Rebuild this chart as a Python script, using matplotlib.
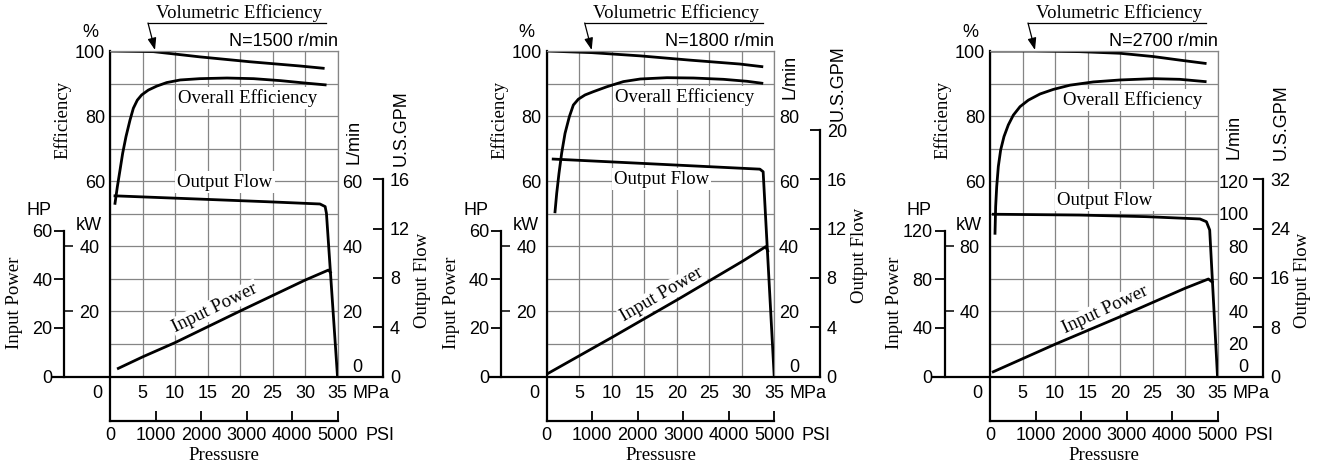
import matplotlib.pyplot as plt

plt.rcParams['font.family'] = 'Liberation Sans'
plt.rcParams['font.size'] = 13
SERIF = 'Liberation Serif'
SERIF_SIZE = 13.5

# shaft speed of each panel (r/min)
speeds = [1500, 1800, 2700]

# volumetric efficiency (%) vs pressure (MPa)
vol_mpa = [[0, 6.7, 13.8, 21.5, 29.2, 32.8],
           [0, 6.9, 14.4, 22.0, 29.7, 33.1],
           [0, 6.7, 13.8, 20.0, 25.1, 29.2, 33.1]]
vol_eff = [[100, 99.8, 98.2, 96.7, 95.4, 94.7],
           [100, 99.5, 98.5, 97.2, 96.0, 95.2],
           [100, 100, 99.8, 99.3, 98.3, 97.2, 96.2]]

# overall efficiency (%) vs pressure (MPa)
ovr_mpa = [[0.77, 1.13, 1.54, 1.95, 2.46, 3.08, 3.59, 4.2, 4.87, 5.9, 7.18, 8.72,
            10.8, 13.8, 18.0, 22.1, 26.2, 30.3, 33.1],
           [1.28, 1.54, 1.89, 2.3, 2.82, 3.48, 4.1, 4.87, 5.9, 7.17, 9.23, 11.8,
            14.4, 18.5, 22.6, 27.2, 30.8, 33.1],
           [0.77, 0.87, 1.03, 1.28, 1.64, 2.15, 2.82, 3.59, 4.62, 5.9, 7.7, 9.74,
            12.3, 15.9, 20.0, 25.1, 29.2, 33.1]]
ovr_eff = [[53.2, 58.3, 63.4, 68.6, 73.7, 78.8, 82.4, 84.9, 86.5, 88.0, 89.2, 90.3,
            91.1, 91.5, 91.7, 91.5, 90.9, 90.1, 89.6],
           [50.6, 56.3, 62.4, 68.6, 74.7, 79.8, 83.4, 85.2, 86.5, 87.5, 89.0, 90.6,
            91.4, 91.8, 91.7, 91.3, 90.7, 90.1],
           [44.0, 52.2, 58.3, 64.5, 69.6, 73.7, 77.3, 80.3, 82.9, 84.9, 86.8, 88.2,
            89.5, 90.5, 91.1, 91.5, 91.3, 90.6]]

# output flow (L/min) vs pressure (MPa)
flow_mpa = [[0.77, 13.8, 24.1, 32.3, 33.1, 33.3, 35.0],
            [1.0, 14.4, 24.6, 32.8, 33.3, 35.0],
            [0.5, 13.8, 24.1, 32.3, 33.3, 33.8, 35.0]]
flow_lmin = [[55.5, 54.5, 53.7, 53.0, 52.2, 50.1, 0],
             [66.8, 65.5, 64.5, 63.7, 62.9, 0],
             [99.7, 99.2, 98.2, 96.8, 95.1, 90.0, 0]]

# input power (kW) vs pressure (MPa)
pow_mpa = [[1.28, 5.1, 10.0, 20.0, 30.0, 33.6, 33.9],
           [0.25, 10.2, 20.2, 30.2, 33.7, 34.0],
           [0.5, 10.0, 20.0, 30.0, 33.6, 34.2]]
pow_kw = [[2.5, 6.1, 10.4, 20.1, 29.6, 32.7, 32.0],
          [1.0, 12.2, 23.7, 35.5, 39.9, 38.6],
          [2.9, 19.8, 36.7, 54.2, 59.9, 58.0]]

# axis scales and tick labels
flow_top = [100, 100, 200]
lmin_ticks = [[20, 40, 60], [20, 40, 60, 80], [20, 40, 60, 80, 100, 120]]
kw_ticks = [[20, 40], [20, 40], [40, 80]]
hp_ticks = [[0, 20, 40, 60], [0, 20, 40, 60], [0, 40, 80, 120]]
gpm_ticks = [[0, 4, 8, 12, 16], [0, 4, 8, 12, 16, 20], [0, 8, 16, 24, 32]]
psi_ticks = [0, 1000, 2000, 3000, 4000, 5000]
KW_PER_HP = 0.7457
LMIN_PER_GPM = 3.785

# layout in pixels
W, H = 1324, 469
lefts = [110, 546.7, 990]
AW, TOP, BOT = 227.5, 51, 376.5
AH = BOT - TOP
GRID = '#858585'
LW = 2.0


def pt(v):
    return v * 0.72


def axp(dx, py):
    return dx / AW, (BOT - py) / AH


fig = plt.figure(figsize=(W / 100, H / 100), dpi=100)

lmin_lab_y = [142, 77, 137]
gpm_lab_y = [128, 83, 122]
oflow_side_y = [280, 255, 280]
overall_pos = [(138, 98), (138, 97), (143, 100)]
oflow_pos = [(115, 182), (115, 179), (115, 200)]
inpow_pos = [(105, 308, 26), (115, 295, 30), (115, 310, 25)]
lmin_pad = [25, 25, 31]

for i, n in enumerate(speeds):
    ax = fig.add_axes([lefts[i] / W, 1 - BOT / H, AW / W, AH / H])
    ax.set_xlim(0, 35)
    ax.set_ylim(0, 100)
    ax.set_xticks(range(0, 36, 5))
    ax.set_xticklabels([''] + [str(v) for v in range(5, 36, 5)])
    ax.set_yticks(range(0, 101, 10))
    ax.set_yticklabels([str(v) if v in (60, 80, 100) else '' for v in range(0, 101, 10)])
    ax.tick_params(length=0)
    ax.tick_params(axis='y', pad=pt(5))
    ax.tick_params(axis='x', pad=pt(8))
    ax.grid(True, color=GRID, lw=0.9)
    ax.set_axisbelow(True)
    for s in ('top', 'right'):
        ax.spines[s].set_color(GRID)
        ax.spines[s].set_linewidth(0.9)
    ax.spines['left'].set_linewidth(1.6)
    ax.spines['left'].set_bounds(-44.5 / AH * 100, 100)
    ax.spines['bottom'].set_linewidth(1.6)
    ax.spines['bottom'].set_bounds(-57 / AW * 35, 35 * (1 + 45.5 / AW))

    ax.plot(vol_mpa[i], vol_eff[i], color='k', lw=LW, solid_joinstyle='round')
    ax.plot(ovr_mpa[i], ovr_eff[i], color='k', lw=LW, solid_joinstyle='round')

    # output flow, L/min
    axf = ax.twinx()
    axf.set_ylim(0, flow_top[i])
    for s in axf.spines.values():
        s.set_visible(False)
    axf.plot(flow_mpa[i], flow_lmin[i], color='k', lw=LW, solid_joinstyle='round')
    axf.set_yticks(lmin_ticks[i])
    axf.tick_params(axis='y', length=0, pad=pt(lmin_pad[i]))
    for t in axf.get_yticklabels():
        t.set_ha('right')
    axf.text(1 + lmin_pad[i] / AW, axp(0, 368)[1], '0', transform=axf.transAxes,
             ha='right', va='center')

    # input power, kW
    axk = ax.twinx()
    axk.set_ylim(0, flow_top[i])
    for s in axk.spines.values():
        s.set_visible(False)
    axk.spines['right'].set_position(('axes', -45.5 / AW))
    axk.plot(pow_mpa[i], pow_kw[i], color='k', lw=LW, solid_joinstyle='round')
    axk.set_yticks(kw_ticks[i])
    axk.tick_params(axis='y', direction='out', length=pt(9), width=1.1, pad=pt(6))

    # input power, HP
    axh = ax.twinx()
    axh.set_ylim(0, flow_top[i] / KW_PER_HP)
    for s in axh.spines.values():
        s.set_visible(False)
    axh.yaxis.tick_left()
    axh.spines['left'].set_visible(True)
    axh.spines['left'].set_position(('axes', -45.5 / AW))
    axh.spines['left'].set_linewidth(1.6)
    axh.spines['left'].set_bounds(0, hp_ticks[i][-1])
    axh.set_yticks(hp_ticks[i])
    axh.tick_params(axis='y', direction='out', length=pt(10), width=1.3, pad=pt(2))

    # output flow, US GPM
    axg = ax.twinx()
    axg.set_ylim(0, flow_top[i] / LMIN_PER_GPM)
    for s in axg.spines.values():
        s.set_visible(False)
    axg.spines['right'].set_visible(True)
    axg.spines['right'].set_position(('axes', 1 + 45.5 / AW))
    axg.spines['right'].set_linewidth(1.6)
    axg.spines['right'].set_bounds(0, gpm_ticks[i][-1])
    axg.set_yticks(gpm_ticks[i])
    axg.tick_params(axis='y', direction='in', length=pt(10), width=1.3, pad=pt(7))

    # pressure, PSI
    axs = ax.twiny()
    axs.set_xlim(0, 5000)
    for s in axs.spines.values():
        s.set_visible(False)
    axs.xaxis.tick_bottom()
    axs.spines['bottom'].set_visible(True)
    axs.spines['bottom'].set_position(('outward', pt(44.5)))
    axs.spines['bottom'].set_linewidth(1.6)
    axs.set_xticks(psi_ticks)
    axs.tick_params(axis='x', direction='in', length=pt(10), width=1.3, pad=pt(6))

    # annotations
    tr = ax.transAxes
    x0, y0 = axp(38, 23)
    x1, _ = axp(216, 23)
    ax.plot([x0, x1], [y0, y0], color='k', lw=0.9, transform=tr, clip_on=False)
    ax.annotate('', xy=axp(45, 50), xytext=(x0, y0), xycoords=tr, textcoords=tr,
                arrowprops=dict(arrowstyle='-|>,head_length=0.55,head_width=0.2',
                                color='k', lw=0.9, shrinkA=0, shrinkB=0))
    ax.text(*axp(129, 13), 'Volumetric Efficiency', transform=tr, family=SERIF,
            fontsize=SERIF_SIZE, ha='center', va='center')
    ax.text(1, axp(0, 42)[1], f'N={n} r/min', transform=tr, ha='right', va='center')
    ax.text(*axp(-20, 32), '%', transform=tr, ha='center', va='center')
    ax.text(*axp(-47, 120), 'Efficiency', transform=tr, family=SERIF, rotation=90,
            fontsize=SERIF_SIZE, ha='center', va='center')
    ax.text(*axp(*overall_pos[i]), 'Overall Efficiency', transform=tr, family=SERIF,
            fontsize=SERIF_SIZE, ha='center', va='center',
            bbox=dict(fc='white', ec='none', pad=1.5))
    ax.text(*axp(*oflow_pos[i]), 'Output Flow', transform=tr, family=SERIF,
            fontsize=SERIF_SIZE, ha='center', va='center',
            bbox=dict(fc='white', ec='none', pad=1.5))
    dx, py, ang = inpow_pos[i]
    ax.text(*axp(dx, py), 'Input Power', transform=tr, family=SERIF, rotation=ang,
            fontsize=SERIF_SIZE, rotation_mode='anchor', ha='center', va='center',
            bbox=dict(fc='white', ec='none', pad=1))
    ax.text(*axp(-95.5, 303), 'Input Power', transform=tr, family=SERIF, rotation=90,
            fontsize=SERIF_SIZE, ha='center', va='center')
    ax.text(*axp(-71, 210), 'HP', transform=tr, ha='center', va='center')
    ax.text(*axp(-21, 225), 'kW', transform=tr, ha='center', va='center')
    ax.text(*axp(AW + 16, lmin_lab_y[i]), 'L/min', transform=tr, rotation=90,
            ha='center', va='center')
    ax.text(*axp(AW + 63.5, gpm_lab_y[i]), 'U.S.GPM', transform=tr, rotation=90,
            ha='center', va='center')
    ax.text(*axp(AW + 85, oflow_side_y[i]), 'Output Flow', transform=tr, family=SERIF,
            fontsize=SERIF_SIZE, rotation=90, ha='center', va='center')
    ax.text(*axp(-12.5, 393), '0', transform=tr, ha='center', va='center')
    ax.text(*axp(AW + 15, 393), 'MPa', transform=tr, ha='left', va='center')
    ax.text(*axp(AW + 27.5, 435), 'PSI', transform=tr, ha='left', va='center')
    ax.text(*axp(AW / 2, 455), 'Pressusre', transform=tr, family=SERIF,
            fontsize=SERIF_SIZE, ha='center', va='center')

fig.savefig('out.png', dpi=100)
